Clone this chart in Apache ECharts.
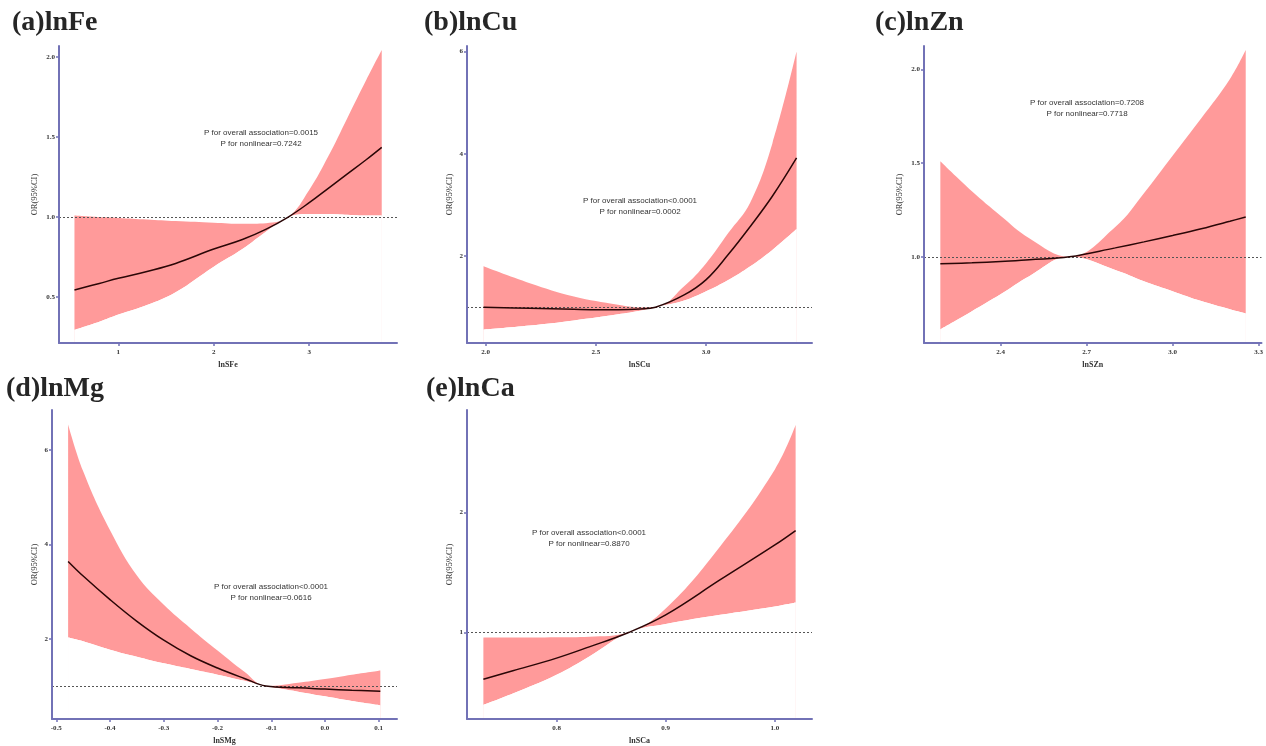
<!DOCTYPE html>
<html>
<head>
<meta charset="utf-8">
<script src="https://cdn.jsdelivr.net/npm/echarts@6/dist/echarts.min.js"></script>
<style>
  html, body { margin: 0; padding: 0; background: #fff; }
  #main { width: 1266px; height: 746px; }
</style>
</head>
<body>
<div id="main"></div>
<script>
// (a) lnFe
var feX   = [0.54, 0.8, 1.0, 1.3, 1.6, 2.0, 2.3, 2.55, 2.78, 3.0, 3.2, 3.4, 3.6, 3.76]
var feEst = [0.544, 0.585, 0.617, 0.66, 0.71, 0.80, 0.86, 0.925, 1.0, 1.09, 1.18, 1.27, 1.36, 1.436]
var feLow = [0.294, 0.345, 0.39, 0.45, 0.53, 0.69, 0.80, 0.91, 1.0, 1.02, 1.02, 1.015, 1.01, 1.01]
var feUp  = [1.01, 1.0, 0.995, 0.985, 0.975, 0.965, 0.958, 0.962, 1.0, 1.17, 1.38, 1.62, 1.86, 2.045]

// (b) lnCu
var cuX   = [1.99, 2.2, 2.4, 2.6, 2.7, 2.77, 2.9, 3.0, 3.1, 3.2, 3.3, 3.41]
var cuEst = [1.0, 0.98, 0.96, 0.95, 0.965, 1.0, 1.24, 1.54, 2.03, 2.58, 3.17, 3.92]
var cuLow = [0.56, 0.64, 0.74, 0.86, 0.93, 1.0, 1.13, 1.31, 1.53, 1.80, 2.12, 2.53]
var cuUp  = [1.80, 1.47, 1.21, 1.05, 1.0, 1.0, 1.41, 1.86, 2.45, 3.05, 4.2, 6.0]

// (c) lnZn
var znX   = [2.19, 2.3, 2.4, 2.5, 2.64, 2.8, 2.9, 3.0, 3.1, 3.2, 3.255]
var znEst = [0.963, 0.968, 0.975, 0.985, 1.0, 1.048, 1.08, 1.114, 1.15, 1.19, 1.213]
var znLow = [0.613, 0.71, 0.80, 0.897, 1.0, 0.93, 0.87, 0.817, 0.764, 0.72, 0.698]
var znUp  = [1.51, 1.35, 1.22, 1.1, 1.0, 1.16, 1.34, 1.54, 1.74, 1.95, 2.105]

// (d) lnMg
var mgX   = [-0.478, -0.45, -0.4, -0.35, -0.3, -0.25, -0.2, -0.15, -0.11, -0.05, 0.0, 0.05, 0.103]
var mgEst = [3.64, 3.33, 2.83, 2.37, 1.97, 1.64, 1.38, 1.16, 1.0, 0.96, 0.935, 0.91, 0.89]
var mgLow = [2.03, 1.95, 1.77, 1.62, 1.48, 1.36, 1.24, 1.11, 1.0, 0.88, 0.78, 0.68, 0.59]
var mgUp  = [6.54, 5.55, 4.3, 3.34, 2.72, 2.22, 1.75, 1.3, 1.0, 1.07, 1.15, 1.24, 1.33]

// (e) lnCa
var caX   = [0.733, 0.76, 0.8, 0.83, 0.866, 0.9, 0.95, 1.0, 1.019]
var caEst = [0.61, 0.68, 0.786, 0.88, 1.0, 1.147, 1.44, 1.73, 1.85]
var caLow = [0.395, 0.49, 0.647, 0.80, 1.0, 1.07, 1.147, 1.217, 1.25]
var caUp  = [0.956, 0.957, 0.96, 0.965, 1.0, 1.2, 1.72, 2.36, 2.73]

var titles = ['(a)lnFe', '(b)lnCu', '(c)lnZn', '(d)lnMg', '(e)lnCa']
var xNames = ['lnSFe', 'lnSCu', 'lnSZn', 'lnSMg', 'lnSCa']
var pTexts = [
  ['P for overall association=0.0015', 'P for nonlinear=0.7242'],
  ['P for overall association<0.0001', 'P for nonlinear=0.0002'],
  ['P for overall association=0.7208', 'P for nonlinear=0.7718'],
  ['P for overall association<0.0001', 'P for nonlinear=0.0616'],
  ['P for overall association<0.0001', 'P for nonlinear=0.8870']
]
var xTicks = [[1, 2, 3], [2.0, 2.5, 3.0], [2.4, 2.7, 3.0, 3.3], [-0.5, -0.4, -0.3, -0.2, -0.1, 0.0, 0.1], [0.8, 0.9, 1.0]]
var yTicks = [[0.5, 1.0, 1.5, 2.0], [2, 4, 6], [1.0, 1.5, 2.0], [2, 4, 6], [1, 2]]

var data = [
  [feX, feEst, feLow, feUp],
  [cuX, cuEst, cuLow, cuUp],
  [znX, znEst, znLow, znUp],
  [mgX, mgEst, mgLow, mgUp],
  [caX, caEst, caLow, caUp]
]

// layout of each panel (px)
var layout = [
  { grid: [59, 46, 338, 297], xr: [0.378, 3.92], yr: [0.2125, 2.07], xDec: 0, yDec: 1, yGap: 20, title: [12, 9], note: [261, 127] },
  { grid: [467, 46, 345, 297], xr: [1.915, 3.48], yr: [0.30, 6.11], xDec: 1, yDec: 0, yGap: 13, title: [424, 9], note: [640, 195] },
  { grid: [924, 46, 338, 297], xr: [2.133, 3.31], yr: [0.54, 2.126], xDec: 1, yDec: 1, yGap: 20, title: [875, 9], note: [1087, 97] },
  { grid: [52, 410, 345, 309], xr: [-0.508, 0.134], yr: [0.30, 6.85], xDec: 1, yDec: 0, yGap: 13, title: [6, 375], note: [271, 581] },
  { grid: [467, 410, 345, 309], xr: [0.718, 1.034], yr: [0.278, 2.856], xDec: 1, yDec: 0, yGap: 13, title: [426, 375], note: [589, 527] }
]

var axisColor = '#7272b6'
var bandColor = '#ff9a9a'

var grids = [], xAxes = [], yAxes = [], series = [], graphics = []

function fmt(dec) {
  return function (v) { return Number(v).toFixed(dec) }
}

layout.forEach(function (p, i) {
  var d = data[i]
  grids.push({ left: p.grid[0], top: p.grid[1], width: p.grid[2], height: p.grid[3] })
  xAxes.push({
    type: 'value', gridIndex: i, min: p.xr[0], max: p.xr[1], z: 10,
    name: xNames[i], nameLocation: 'middle', nameGap: 18,
    nameTextStyle: { fontFamily: 'Liberation Serif', fontWeight: 'bold', fontSize: 8, color: '#333' },
    axisLine: { onZero: false, lineStyle: { color: axisColor, width: 2 } },
    axisTick: { show: true, length: 3, customValues: xTicks[i], lineStyle: { color: axisColor, width: 1.5 } },
    axisLabel: {
      customValues: xTicks[i], margin: 6, formatter: fmt(p.xDec),
      fontFamily: 'Liberation Serif', fontWeight: 'bold', fontSize: 7, color: '#333'
    },
    splitLine: { show: false }
  })
  yAxes.push({
    type: 'value', gridIndex: i, min: p.yr[0], max: p.yr[1], z: 10,
    name: 'OR(95%CI)', nameLocation: 'middle', nameGap: p.yGap,
    nameTextStyle: { fontFamily: 'Liberation Serif', fontSize: 8.5, color: '#333' },
    axisLine: { show: true, onZero: false, lineStyle: { color: axisColor, width: 2 } },
    axisTick: { show: true, length: 3, customValues: yTicks[i], lineStyle: { color: axisColor, width: 1.5 } },
    axisLabel: {
      customValues: yTicks[i], margin: 4, formatter: fmt(p.yDec),
      fontFamily: 'Liberation Serif', fontWeight: 'bold', fontSize: 7, color: '#333'
    },
    splitLine: { show: false }
  })

  var x = d[0], est = d[1], low = d[2], up = d[3]
  // band: pink area under the upper bound, then white area under the lower bound (twice, to hide edge seams)
  series.push({
    type: 'line', xAxisIndex: i, yAxisIndex: i, smooth: 0.4, z: 1,
    symbol: 'none', silent: true, lineStyle: { width: 0, opacity: 0 },
    areaStyle: { color: bandColor, opacity: 1, origin: 'start' },
    data: x.map(function (v, k) { return [v, up[k]] })
  })
  for (var w = 0; w < 2; w++) {
    series.push({
      type: 'line', xAxisIndex: i, yAxisIndex: i, smooth: 0.4, z: 2,
      symbol: 'none', silent: true, lineStyle: { width: 0, opacity: 0 },
      areaStyle: { color: '#ffffff', opacity: 1, origin: 'start' },
      data: x.map(function (v, k) { return [v, low[k]] })
    })
  }
  series.push({
    type: 'line', xAxisIndex: i, yAxisIndex: i, smooth: 0.4, z: 5,
    symbol: 'none', lineStyle: { color: '#2a0606', width: 1.5 },
    data: x.map(function (v, k) { return [v, est[k]] }),
    markLine: {
      silent: true, symbol: 'none', z: 4,
      label: { show: false },
      lineStyle: { type: [2, 2], color: '#555', width: 1 },
      data: [{ yAxis: 1 }]
    }
  })

  graphics.push({
    type: 'text', x: p.title[0], y: p.title[1],
    style: { text: titles[i], font: 'bold 28px "Liberation Serif"', fill: '#262626', verticalAlign: 'top' }
  })
  graphics.push({
    type: 'text', x: p.note[0], y: p.note[1],
    style: {
      text: pTexts[i].join('\n'), font: '8px "Liberation Sans"', lineHeight: 11,
      fill: '#333', align: 'center', verticalAlign: 'top'
    }
  })
})

var chart = echarts.init(document.getElementById('main'))
chart.setOption({
  backgroundColor: '#fff',
  animation: false,
  grid: grids,
  xAxis: xAxes,
  yAxis: yAxes,
  series: series,
  graphic: graphics
})
</script>
</body>
</html>
